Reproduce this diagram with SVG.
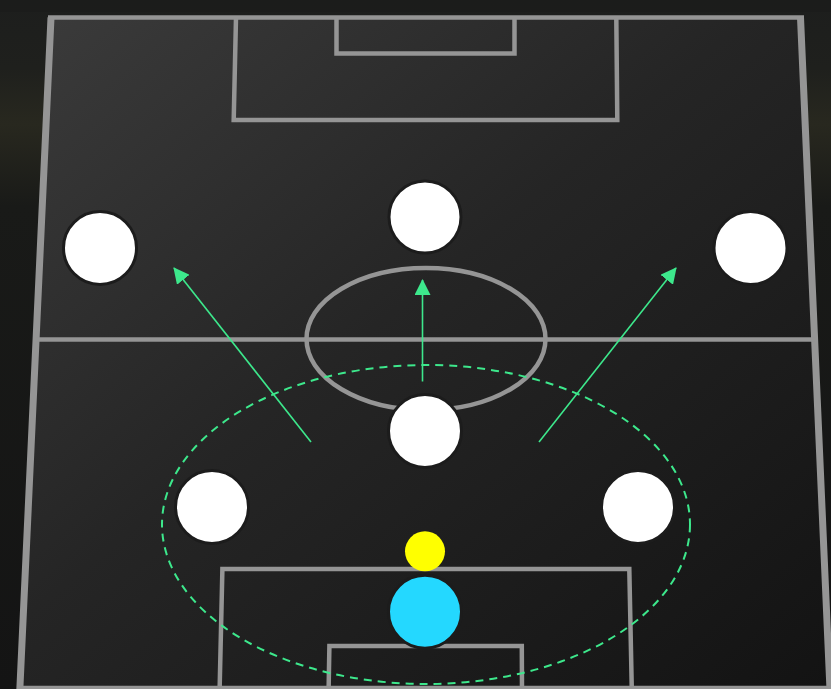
<svg xmlns="http://www.w3.org/2000/svg" width="831" height="689" viewBox="0 0 831 689">
<defs>
<linearGradient id="bg" x1="0" y1="0" x2="0" y2="1">
<stop offset="0" stop-color="#1d1e1d"/>
<stop offset="0.1" stop-color="#1f201d"/>
<stop offset="0.18" stop-color="#28281f"/>
<stop offset="0.3" stop-color="#191a18"/>
<stop offset="1" stop-color="#141414"/>
</linearGradient>
<linearGradient id="pitch" x1="0" y1="0" x2="1" y2="1">
<stop offset="0" stop-color="#3b3b3b"/>
<stop offset="0.45" stop-color="#252525"/>
<stop offset="1" stop-color="#131313"/>
</linearGradient>
<marker id="ah" viewBox="0 0 16 16" refX="15" refY="8" markerWidth="16" markerHeight="16" markerUnits="userSpaceOnUse" orient="auto">
<path d="M0,0 L16,8 L0,16 Z" fill="#3de88c"/>
</marker>
<style>
.line{fill:none;stroke:#959595;stroke-width:4.5;stroke-linejoin:miter}
.side{fill:none;stroke:#959595;stroke-width:7}
.player{fill:#ffffff;stroke:#1c1c1c;stroke-width:3}
.arrow{stroke:#3de88c;stroke-width:1.6;fill:none;marker-end:url(#ah)}
.zone{fill:none;stroke:#3de88c;stroke-width:2;stroke-dasharray:8 6}
</style>
</defs>
<rect x="0" y="0" width="831" height="689" fill="url(#bg)"/>
<rect x="0" y="0" width="831" height="12" fill="#1a1b1a" opacity="0.6"/>
<!-- pitch -->
<polygon points="51,17.5 800.5,17.5 830,688 20,688" fill="url(#pitch)"/>
<g id="pitch-lines">
<path class="side" d="M19.8,690 L51,17.5 M800.5,17.5 L830,690"/>
<path class="line" d="M48,17.5 L804,17.5"/>
<path class="line" d="M20,688 L832,688"/>
<path class="line" d="M36,339.5 L815,339.5"/>
<path class="line" d="M236,17.5 L233.7,120 L617.3,120 L616.3,17.5"/>
<path class="line" d="M336.5,17.5 L336.5,53.5 L514.5,53.5 L514.5,17.5"/>
<ellipse class="line" cx="426" cy="339" rx="119.5" ry="71"/>
<path class="line" d="M219.6,690 L222.4,569 L629.3,569 L631.8,690"/>
<path class="line" d="M328.6,690 L329.4,646 L521.8,646 L522,690"/>
</g>
<ellipse class="zone" cx="426" cy="524.5" rx="264" ry="159.5"/>
<g id="connectors">
<line class="arrow" x1="311" y1="442" x2="174" y2="268"/>
<line class="arrow" x1="422.5" y1="381.5" x2="422.5" y2="280"/>
<line class="arrow" x1="539" y1="442" x2="676" y2="268"/>
</g>
<g id="lw"><circle class="player" cx="100" cy="248" r="36.5"/></g>
<g id="st"><circle class="player" cx="425" cy="217" r="36"/></g>
<g id="rw"><circle class="player" cx="750.5" cy="248" r="36.5"/></g>
<g id="cm"><circle class="player" cx="425" cy="431" r="36.5"/></g>
<g id="lcb"><circle class="player" cx="212" cy="507" r="36.5"/></g>
<g id="rcb"><circle class="player" cx="638" cy="507" r="36.5"/></g>
<g id="ball"><circle cx="425" cy="551.3" r="20" fill="#ffff00"/></g>
<g id="gk"><circle cx="425" cy="611.7" r="36.5" fill="#24d8ff" stroke="#1c1c1c" stroke-width="3"/></g>
</svg>
